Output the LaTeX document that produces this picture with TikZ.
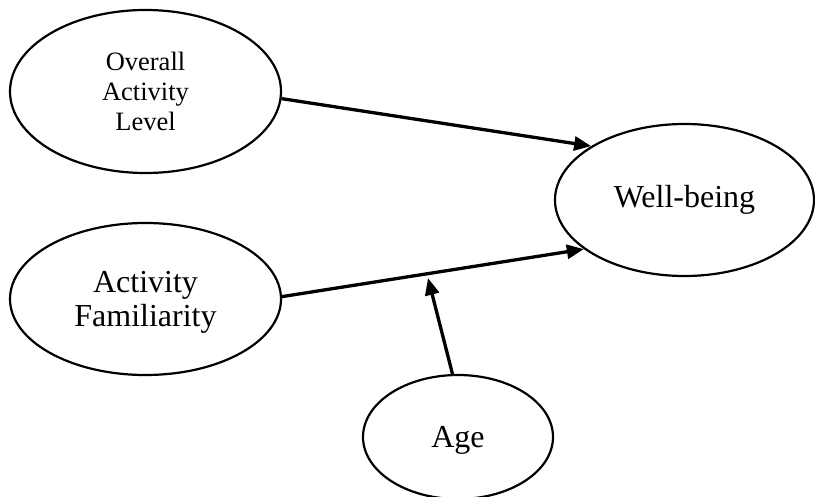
\documentclass[tikz,border=0pt]{standalone}
\usepackage{fontspec}
\setmainfont{Liberation Serif}
\usetikzlibrary{shapes.geometric,arrows.meta}

\tikzset{
  construct/.style={ellipse, draw=black, line width=2.2pt, inner sep=0pt, align=center},
  path/.style={line width=3.3pt, -{Triangle[length=17pt,width=14pt]}}
}

\begin{document}
\begin{tikzpicture}[x=1pt, y=-1pt]
  \useasboundingbox (0,0) rectangle (815,497);

  % latent constructs
  \node[construct, minimum width=271pt, minimum height=163pt,
        font=\fontsize{26.5}{30}\selectfont] (ov) at (145.5,91.5)
        {Overall\\Activity\\Level};
  \node[construct, minimum width=271pt, minimum height=152pt,
        font=\fontsize{32}{34}\selectfont, text depth=1pt] (fam) at (145.5,299)
        {Activity\\Familiarity};
  \node[construct, minimum width=259pt, minimum height=152pt,
        font=\fontsize{32}{38}\selectfont] (wb) at (684.5,200)
        {Well-being};
  \node[construct, minimum width=190pt, minimum height=124pt,
        font=\fontsize{32}{38}\selectfont, text depth=0pt] (age) at (458,437)
        {Age};

  % moderation point on the familiarity path
  \coordinate (mod) at (428,278);

  % paths
  \draw[path] (ov.-3) -- (wb.150);
  \draw[path] (fam.1) -- (wb.206);
  \draw[path] (age.95) -- (mod);
\end{tikzpicture}
\end{document}
